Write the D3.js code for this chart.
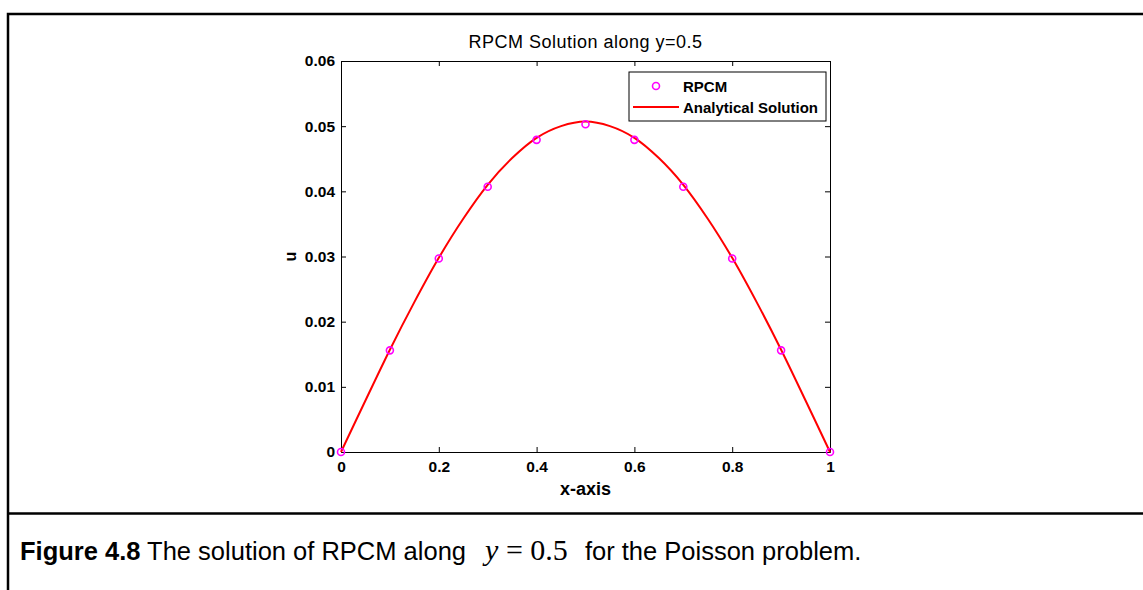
<!DOCTYPE html>
<html lang="en">
<head>
<meta charset="UTF-8">
<title>RPCM Solution along y=0.5</title>
<style>
  body { margin: 0; background: #fff; }
  svg { display: block; }
</style>
</head>
<body>
<svg id="chart" width="1143" height="590"></svg>
<script src="https://cdnjs.cloudflare.com/ajax/libs/d3/7.8.5/d3.min.js"></script>
<script>
// RPCM collocation points
const rpcmX = [0, 0.1, 0.2, 0.3, 0.4, 0.5, 0.6, 0.7, 0.8, 0.9, 1];
const rpcmU = [0, 0.0156, 0.0297, 0.0407, 0.0479, 0.0503, 0.0479, 0.0407, 0.0297, 0.0156, 0];

// analytical solution
const exactX = [0, 0.05, 0.1, 0.15, 0.2, 0.25, 0.3, 0.35, 0.4, 0.45, 0.5,
                0.55, 0.6, 0.65, 0.7, 0.75, 0.8, 0.85, 0.9, 0.95, 1];
const exactU = [0, 0.0079, 0.0157, 0.0230, 0.0298, 0.0358, 0.0410, 0.0451, 0.0482, 0.0500, 0.0507,
                0.0500, 0.0482, 0.0451, 0.0410, 0.0358, 0.0298, 0.0230, 0.0157, 0.0079, 0];

const xTicks = [0, 0.2, 0.4, 0.6, 0.8, 1];
const yTicks = [0, 0.01, 0.02, 0.03, 0.04, 0.05, 0.06];
const legendLabels = ['RPCM', 'Analytical Solution'];

const svg = d3.select('#chart');

// outer figure frame
svg.append('path')
  .attr('d', 'M8,590 V14 H1143 M8,513.5 H1143')
  .attr('fill', 'none')
  .attr('stroke', '#000')
  .attr('stroke-width', 2.5);

const plotL = 341, plotR = 830, plotT = 61, plotB = 452;

const x = d3.scaleLinear().domain([0, 1]).range([plotL, plotR]);
const y = d3.scaleLinear().domain([0, 0.06]).range([plotB, plotT]);

const sans = '"Liberation Sans", Arial, sans-serif';
const tickFont = `bold 15.5px ${sans}`;

// axes (ticks pointing inward, mirrored on top/right like matlab)
svg.append('g')
  .attr('transform', `translate(0,${plotB})`)
  .call(d3.axisBottom(x).tickValues(xTicks).tickSizeInner(-5).tickSizeOuter(0)
    .tickFormat(d => d3.format('')(d)))
  .call(g => g.selectAll('text').attr('y', 20).attr('dy', 0).style('font', tickFont).attr('fill', '#000'));

svg.append('g')
  .attr('transform', `translate(0,${plotT})`)
  .call(d3.axisTop(x).tickValues(xTicks).tickSizeInner(-5).tickSizeOuter(0).tickFormat(''));

svg.append('g')
  .attr('transform', `translate(${plotL},0)`)
  .call(d3.axisLeft(y).tickValues(yTicks).tickSizeInner(-5).tickSizeOuter(0)
    .tickFormat(d => d === 0 ? '0' : d3.format('.2f')(d)))
  .call(g => g.selectAll('text').attr('x', -6).style('font', tickFont).attr('fill', '#000'));

svg.append('g')
  .attr('transform', `translate(${plotR},0)`)
  .call(d3.axisRight(y).tickValues(yTicks).tickSizeInner(-5).tickSizeOuter(0).tickFormat(''));

svg.selectAll('.domain, .tick line').attr('stroke', '#000');

// analytical curve
const line = d3.line()
  .x((d, i) => x(exactX[i]))
  .y(d => y(d))
  .curve(d3.curveCatmullRom);

svg.append('path')
  .datum(exactU)
  .attr('d', line)
  .attr('fill', 'none')
  .attr('stroke', '#ff0000')
  .attr('stroke-width', 2);

// RPCM points
svg.append('g')
  .selectAll('circle')
  .data(rpcmU)
  .join('circle')
  .attr('cx', (d, i) => x(rpcmX[i]))
  .attr('cy', d => y(d))
  .attr('r', 3.5)
  .attr('fill', 'none')
  .attr('stroke', '#ff00ff')
  .attr('stroke-width', 1.6);

// title and axis labels
svg.append('text')
  .attr('x', (plotL + plotR) / 2).attr('y', 48)
  .attr('text-anchor', 'middle')
  .style('font', `18px ${sans}`)
  .style('letter-spacing', '0.5px')
  .text('RPCM Solution along y=0.5');

svg.append('text')
  .attr('x', (plotL + plotR) / 2).attr('y', 495)
  .attr('text-anchor', 'middle')
  .style('font', `bold 18px ${sans}`)
  .text('x-axis');

svg.append('text')
  .attr('transform', `translate(296,${y(0.03)}) rotate(-90)`)
  .attr('text-anchor', 'middle')
  .style('font', `bold 16px ${sans}`)
  .text('u');

// legend
const lg = svg.append('g');
lg.append('rect')
  .attr('x', 629).attr('y', 72).attr('width', 197).attr('height', 49)
  .attr('fill', '#fff').attr('stroke', '#000').attr('stroke-width', 1);

lg.append('circle')
  .attr('cx', 656).attr('cy', 86).attr('r', 3.5)
  .attr('fill', 'none').attr('stroke', '#ff00ff').attr('stroke-width', 1.6);
lg.append('line')
  .attr('x1', 633).attr('x2', 679).attr('y1', 107).attr('y2', 107)
  .attr('stroke', '#ff0000').attr('stroke-width', 2);

lg.selectAll('text.lab')
  .data(legendLabels)
  .join('text')
  .attr('class', 'lab')
  .attr('x', 683)
  .attr('y', (d, i) => 92 + i * 21)
  .style('font', `bold 15px ${sans}`)
  .text(d => d);

// caption
const cap = svg.append('text')
  .attr('x', 20).attr('y', 560)
  .style('font', `25.5px ${sans}`);
cap.append('tspan').style('font-weight', 'bold').text('Figure 4.8');
cap.append('tspan').text(' The solution of RPCM along ');
cap.append('tspan').attr('dx', 12)
  .style('font', 'italic 30px "Liberation Serif", "Times New Roman", serif').text('y');
cap.append('tspan')
  .style('font', '30px "Liberation Serif", "Times New Roman", serif').text(' = 0.5');
cap.append('tspan').attr('dx', 10).text(' for the Poisson problem.');
</script>
</body>
</html>
